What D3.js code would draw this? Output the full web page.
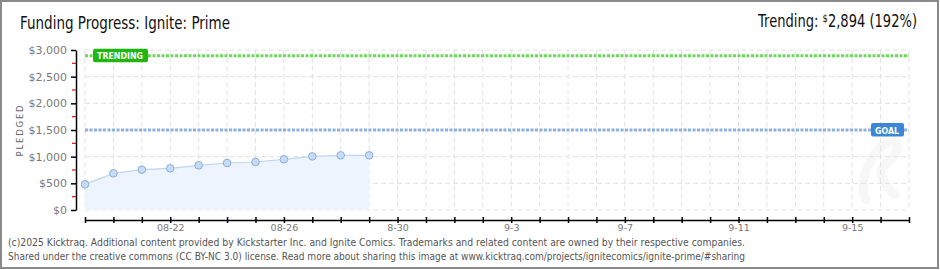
<!DOCTYPE html>
<html lang="en">
<head>
<meta charset="UTF-8">
<title>Funding Progress</title>
<script src="https://d3js.org/d3.v7.min.js"></script>
<style>
    body { margin: 0; background: #fff; }
    svg text { font-family: "DejaVu Sans", sans-serif; }
</style>
</head>
<body>
<div id="chart"></div>
<script>
// campaign data
var days = ["2025-08-19", "2025-08-20", "2025-08-21", "2025-08-22", "2025-08-23", "2025-08-24",
            "2025-08-25", "2025-08-26", "2025-08-27", "2025-08-28", "2025-08-29"];
var pledged = [481, 687, 756, 781, 837, 881, 900, 950, 1006, 1025, 1025];
var goal = 1500;
var trending = 2894;
var trendingPct = 192;
var xStart = "2025-08-19", xEnd = "2025-09-17";
var xLabelDays = ["2025-08-22", "2025-08-26", "2025-08-30", "2025-09-03", "2025-09-07", "2025-09-11", "2025-09-15"];
var xLabels = ["08-22", "08-26", "8-30", "9-3", "9-7", "9-11", "9-15"];
var yTicks = [0, 500, 1000, 1500, 2000, 2500, 3000];
var yMinor = [250, 750, 1250, 1750, 2250, 2750];

var W = 940, H = 270;
var parse = d3.utcParse("%Y-%m-%d");

var svg = d3.select("#chart").append("svg")
    .attr("width", W).attr("height", H);

// frame
svg.append("rect").attr("x", 1).attr("y", 1).attr("width", W - 3).attr("height", H - 3)
    .attr("fill", "#fff").attr("stroke", "#8a8a8a").attr("stroke-width", 2);

var x = d3.scaleUtc().domain([parse(xStart), parse(xEnd)]).range([85, 909]);
var y = d3.scaleLinear().domain([0, 3000]).range([210, 50]);
var allDays = d3.utcDay.range(parse(xStart), d3.utcDay.offset(parse(xEnd), 1));

// faint logo watermark (drawn as a shape, not text)
svg.append("path")
    .attr("d", "M866,200 C858,185 868,160 878,150 M878,150 C900,130 905,150 885,165 C878,170 880,180 895,195")
    .attr("fill", "none").attr("stroke", "#f7f7f7").attr("stroke-width", 9).attr("stroke-linecap", "round");

// grid
var grid = svg.append("g").attr("stroke", "#e2e2e2").attr("stroke-dasharray", "5,3");
grid.selectAll(".v").data(allDays).enter().append("line")
    .attr("x1", d => x(d)).attr("x2", d => x(d)).attr("y1", y(3000)).attr("y2", y(0));
grid.selectAll(".h").data(yTicks).enter().append("line")
    .attr("x1", x.range()[0]).attr("x2", x.range()[1]).attr("y1", d => y(d)).attr("y2", d => y(d));

// pledged area + line
var pts = days.map((d, i) => ({ date: parse(d), v: pledged[i] }));
svg.append("path").datum(pts)
    .attr("fill", "#edf4fd")
    .attr("d", d3.area().x(d => x(d.date)).y0(y(0)).y1(d => y(d.v)));
svg.append("path").datum(pts)
    .attr("fill", "none").attr("stroke", "#bcd6f3").attr("stroke-width", 1.2)
    .attr("d", d3.line().x(d => x(d.date)).y(d => y(d.v)));
svg.selectAll(".pt").data(pts).enter().append("circle")
    .attr("cx", d => x(d.date)).attr("cy", d => y(d.v)).attr("r", 3.8)
    .attr("fill", "#c6dcf6").attr("stroke", "#8eaed6").attr("stroke-width", 1);

// goal + trending lines
function refLine(val, color, label, boxColor, boxX, boxW) {
    svg.append("line").attr("x1", x.range()[0]).attr("x2", x.range()[1])
        .attr("y1", y(val)).attr("y2", y(val))
        .attr("stroke", color).attr("stroke-width", 3).attr("stroke-dasharray", "3,1.5");
    var g = svg.append("g");
    g.append("rect").attr("x", boxX).attr("y", y(val) - 7).attr("width", boxW).attr("height", 13.5)
        .attr("rx", 2).attr("fill", boxColor);
    g.append("text").attr("x", boxX + 4).attr("y", y(val) + 3.5)
        .attr("textLength", boxW - 9).attr("lengthAdjust", "spacingAndGlyphs")
        .style("font-size", "9px").style("font-weight", "bold")
        .attr("fill", "#fff").text(label);
}
refLine(trending, "#6bd95a", "TRENDING", "#20b712", 93, 55);
refLine(goal, "#8fb2de", "GOAL", "#3b87d6", 871, 33);

// y axis
var yAxis = svg.append("g").attr("transform", "translate(76,0)")
    .call(d3.axisLeft(y).tickValues(yTicks).tickSize(5).tickSizeOuter(0)
        .tickFormat(d => "$" + d3.format(",")(d)));
yAxis.select(".domain").attr("stroke", "#000").attr("stroke-width", 1.5);
yAxis.selectAll(".tick line").attr("stroke", "#000").attr("stroke-width", 1.5);
yAxis.selectAll(".tick text").attr("x", -9).attr("fill", "#7a7a7a")
    .style("font-family", "DejaVu Sans").style("font-size", "11px");
yAxis.selectAll(".minor").data(yMinor).enter().append("line")
    .attr("x1", -4).attr("x2", 0).attr("y1", d => y(d)).attr("y2", d => y(d))
    .attr("stroke", "#e01010").attr("stroke-width", 1.2);

// x axis
var labelMap = {};
xLabelDays.forEach((d, i) => { labelMap[+parse(d)] = xLabels[i]; });
var xAxis = svg.append("g").attr("transform", "translate(0,220)")
    .call(d3.axisBottom(x).tickValues(allDays).tickSize(3).tickSizeOuter(0)
        .tickFormat(d => labelMap[+d] || ""));
xAxis.select(".domain").attr("stroke", "#000").attr("stroke-width", 1.5);
xAxis.selectAll(".tick line").attr("y1", -3).attr("stroke", "#000").attr("stroke-width", 1.5);
xAxis.selectAll(".tick text").attr("y", 4).attr("fill", "#7a7a7a")
    .style("font-family", "DejaVu Sans").style("font-size", "9.5px");

// y title
svg.append("text").attr("transform", "translate(23,130) rotate(-90)")
    .attr("text-anchor", "middle").attr("fill", "#666")
    .style("font-size", "8.5px").style("letter-spacing", "1.8px")
    .text("PLEDGED");

// titles
svg.append("text").attr("x", 20).attr("y", 29).attr("fill", "#111")
    .attr("textLength", 210).attr("lengthAdjust", "spacingAndGlyphs")
    .style("font-size", "17px").text("Funding Progress: Ignite: Prime");
var tr = svg.append("text").attr("x", 917).attr("y", 27).attr("text-anchor", "end")
    .attr("fill", "#111").style("font-size", "17px");
tr.append("tspan").text("Trending:  ");
tr.append("tspan").style("font-size", "11px").attr("dy", -5).text("$");
tr.append("tspan").attr("dy", 5).text(d3.format(",")(trending) + " (" + trendingPct + "%)");
// squeeze to the reference's narrow width
var trW = tr.node().getComputedTextLength();
tr.attr("transform", "translate(917,0) scale(" + (159 / trW) + ",1) translate(-917,0)");

// footer
var foot = ["(c)2025 Kicktraq. Additional content provided by Kickstarter Inc. and Ignite Comics. Trademarks and related content are owned by their respective companies.",
            "Shared under the creative commons (CC BY-NC 3.0) license. Read more about sharing this image at www.kicktraq.com/projects/ignitecomics/ignite-prime/#sharing"];
svg.selectAll(".foot").data(foot).enter().append("text")
    .attr("x", 8).attr("y", (d, i) => 246 + i * 14)
    .attr("textLength", 737).attr("lengthAdjust", "spacingAndGlyphs")
    .attr("fill", "#555").style("font-size", "11px").text(d => d);
</script>
</body>
</html>
